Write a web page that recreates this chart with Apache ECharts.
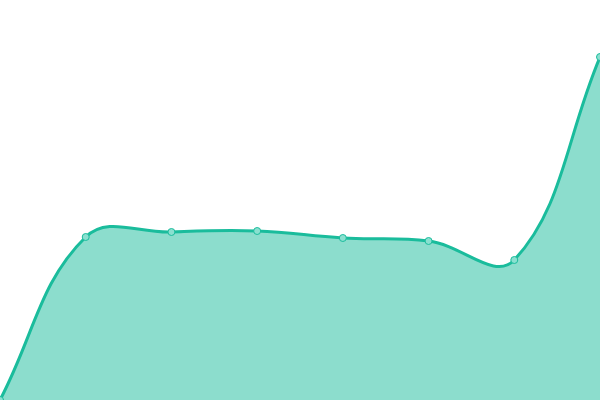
<!DOCTYPE html>
<html><head><meta charset="utf-8">
<script src="https://cdn.jsdelivr.net/npm/echarts@6/dist/echarts.min.js"></script>
<style>html,body{margin:0;padding:0;background:#fff}#c{width:600px;height:400px}</style>
</head><body><div id="c"></div>
<script>
var categories = ['A','B','C','D','E','F','G','H'];
var values = [0, 40.75, 42, 42.25, 40.5, 39.75, 35, 85.75];

var TENSION = 0.4;
function ctrl(prev, cur, next, t) {
  var d01 = Math.hypot(cur[0]-prev[0], cur[1]-prev[1]);
  var d12 = Math.hypot(next[0]-cur[0], next[1]-cur[1]);
  var s01 = d01/(d01+d12), s12 = d12/(d01+d12);
  if (isNaN(s01)) s01 = 0; if (isNaN(s12)) s12 = 0;
  var fa = t*s01, fb = t*s12;
  return {
    p: [cur[0]-fa*(next[0]-prev[0]), cur[1]-fa*(next[1]-prev[1])],
    n: [cur[0]+fb*(next[0]-prev[0]), cur[1]+fb*(next[1]-prev[1])]
  };
}
function renderCurve(params, api) {
  if (params.dataIndex !== 0) return null;
  var pts = values.map(function (v, i) { return api.coord([i, v]); });
  var cps = pts.map(function (p, i) {
    return ctrl(pts[i-1] || p, p, pts[i+1] || p, TENSION);
  });
  var d = 'M' + pts[0][0] + ' ' + pts[0][1];
  for (var i = 1; i < pts.length; i++) {
    var a = cps[i-1].n, b = cps[i].p;
    d += ' C' + a[0] + ' ' + a[1] + ' ' + b[0] + ' ' + b[1] + ' ' + pts[i][0] + ' ' + pts[i][1];
  }
  var base = api.coord([0, 0])[1];
  var area = d + ' L' + pts[pts.length-1][0] + ' ' + base + ' L' + pts[0][0] + ' ' + base + ' Z';
  return {
    type: 'group',
    children: [
      {type: 'path', shape: {pathData: area}, style: {fill: 'rgba(26,188,156,0.5)', stroke: null}},
      {type: 'path', shape: {pathData: d}, style: {fill: null, stroke: '#1abc9c', lineWidth: 3, lineJoin: 'round'}}
    ]
  };
}

var chart = echarts.init(document.getElementById('c'));
chart.setOption({
  animation: false,
  grid: {left: 0, right: 0, top: 0, bottom: 0},
  xAxis: {type: 'category', data: categories, boundaryGap: false, show: false},
  yAxis: {type: 'value', min: 0, max: 100, show: false},
  series: [{
    type: 'custom',
    renderItem: renderCurve,
    data: values.map(function (v, i) { return [i, v]; }),
    clip: true,
    z: 2
  }, {
    type: 'scatter',
    data: values.map(function (v, i) { return [i, v]; }),
    symbol: 'circle',
    symbolSize: 7,
    itemStyle: {color: '#8ae0d0', borderColor: '#1abc9c', borderWidth: 1, opacity: 1},
    z: 3
  }]
});
</script></body></html>
